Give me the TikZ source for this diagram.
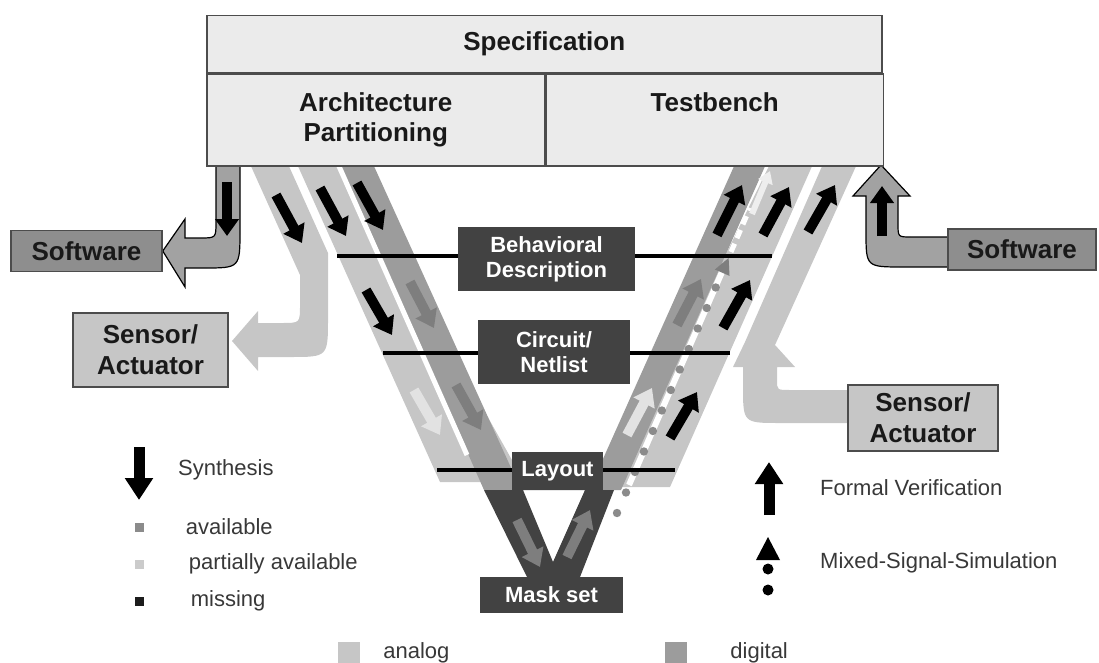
\documentclass[tikz,border=0pt]{standalone}
\usepackage{fontspec}
\setmainfont{Liberation Sans}
\usepackage{tikz}
\usetikzlibrary{arrows.meta,positioning,backgrounds,calc}

\definecolor{analog}{HTML}{C6C6C6}
\definecolor{digital}{HTML}{9C9C9C}
\definecolor{boxdark}{HTML}{424242}
\definecolor{missing}{HTML}{1C1C1C}
\definecolor{avail}{HTML}{7E7E7E}
\definecolor{partial}{HTML}{E2E2E2}
\definecolor{swgray}{HTML}{8E8E8E}
\definecolor{swarrow}{HTML}{A2A2A2}
\definecolor{specgray}{HTML}{EBEBEB}
\definecolor{legtext}{HTML}{383838}

\tikzset{
  specbox/.style={draw=black!70, line width=1.5pt, fill=specgray, text=black!90,
    font=\fontsize{26}{30}\selectfont\bfseries, align=center, inner sep=0pt},
  stagebox/.style={fill=boxdark, text=white, font=\fontsize{22}{25}\selectfont\bfseries,
    align=center, inner sep=0pt},
  extbox/.style={draw=black!70, line width=1.5pt, text=black!90,
    font=\fontsize{26}{31}\selectfont\bfseries, align=center, inner sep=0pt},
  level/.style={line width=4.5pt, black},
  flow/.style={line width=10pt, -{Triangle[width=23pt,length=17pt]}},
  legarrow/.style={black, line width=11pt, -{Triangle[width=27pt,length=22pt]}},
  sq/.style={minimum size=9pt, inner sep=0pt},
  legend/.style={font=\fontsize{22}{26}\selectfont, text=legtext, anchor=west, inner sep=0pt},
}

\begin{document}
\begin{tikzpicture}[x=1pt,y=-1pt]
\useasboundingbox (0,0) rectangle (1099,663);
% nodes
\node[specbox, minimum width=675pt, minimum height=57pt, anchor=north west] (spec) at (206,15) {Specification};
\node[specbox, minimum width=338pt, minimum height=92pt, anchor=north west] (arch) at (spec.south west) {Architecture\\Partitioning};
\node[specbox, minimum width=337pt, minimum height=92pt, right=0pt of arch] (test) {Testbench\\\phantom{g}};

\node[stagebox, minimum width=177pt, minimum height=64pt] (behav) at (546.5,259) {Behavioral\\Description};
\node[stagebox, minimum width=152pt, minimum height=64pt] (circ) at (554,352) {Circuit/\\Netlist};
\node[stagebox, minimum width=91pt, minimum height=38pt] (layout) at (557.5,471) {Layout};
\node[stagebox, minimum width=143pt, minimum height=36pt] (mask) at (551.5,595) {Mask set};

\node[extbox, fill=swgray, minimum width=151pt, minimum height=41pt] (swl) at (86.5,251) {Software};
\node[extbox, fill=swgray, minimum width=148pt, minimum height=41pt] (swr) at (1022,249.5) {Software};
\node[extbox, fill=analog, minimum width=155pt, minimum height=74pt] (sal) at (150.5,350) {Sensor/\\Actuator};
\node[extbox, fill=analog, minimum width=150pt, minimum height=66pt] (sar) at (923,418) {Sensor/\\Actuator};

\begin{scope}[on background layer]
% bands
\fill[analog] (250,164) -- (300,275) -- (300,305) .. controls (300,323) .. (282,323) -- (258,323) -- (258,311)
  -- (232,341) -- (258,371) -- (258,357) -- (290,357) .. controls (328,357) .. (328,318) -- (328,253) -- (288,164) -- cycle;
\fill[analog] (297,164) -- (345,164) -- (512,460) -- (512,482) -- (440,482) -- cycle;
\fill[digital] (340,164) -- (373,164) -- (512,470) -- (512,490) -- (484,490) -- cycle;
\draw[white, line width=5pt] (338,164) -- (467,455);
\fill[analog] (612,487) -- (670,487) -- (813,164) -- (770,164) -- cycle;
\fill[digital] (735,164) -- (766,164) -- (621,490) -- (598,490) -- (598,470) -- cycle;
\fill[analog] (823,164) -- (857,164) -- (775,345) -- (795,367) -- (777,367) -- (777,380) .. controls (777,390) .. (790,390)
  -- (sar.west |- 0,390) -- (sar.west |- 0,423) -- (780,423) .. controls (743,423) .. (743,386) -- (743,367) -- (733,367) -- (745,342) -- cycle;
\fill[boxdark, even odd rule] (484,490) -- (614,490) -- (580,577) -- (527,577) -- cycle
  (523,490) -- (585,490) -- (553,562) -- cycle;
% mixed-signal line
\draw[white, line width=6pt] (629,485) -- (722,272);
\foreach \y in {513,492.5,...,280}
  \fill[avail!90] ({617+0.4377*(513-\y)},\y) circle[radius=4.2pt];
\fill[avail] (728.6,258) -- (729.5,275.9) -- (714.9,269.5) -- cycle;
\draw[white, line width=5pt, dash pattern=on 9pt off 6pt] (731,252) -- (750,208);
% software
\filldraw[fill=swarrow, draw=black, line width=1.2pt] (216,160) -- (216,222) .. controls (216,238) .. (200,238) -- (185,238)
  -- (185,219) -- (swl.east) -- (185,287) -- (185,268) -- (204,268) .. controls (240,268) .. (240,230) -- (240,160);
\filldraw[fill=swarrow, draw=black, line width=1.2pt] (swr.west |- 0,237) -- (911,237) .. controls (898,237) .. (898,224)
  -- (898,196) -- (910,196) -- (881,165) -- (853,196) -- (866,196) -- (866,232) .. controls (866,267) .. (903,267) -- (swr.west |- 0,267);
% levels
\draw[level] (337,256) -- (behav.west |- 0,256);
\draw[level] (behav.east |- 0,256) -- (772,256);
\draw[level] (383,353) -- (circ.west |- 0,353);
\draw[level] (circ.east |- 0,353) -- (730,353);
\draw[level] (437,470) -- (layout.west |- 0,470);
\draw[level] (layout.east |- 0,470) -- (675,470);
\end{scope}

% synthesis
\draw[flow, missing] (227,182) -- (227,236);
\draw[flow, missing] (276,195) -- (302,243);
\draw[flow, missing] (320,188) -- (346,236);
\draw[flow, missing] (357,183) -- (383,230);
\draw[flow, missing] (366,290) -- (392,335);
\draw[flow, avail] (410,282) -- (434,328);
\draw[flow, partial] (414,390) -- (440,435);
\draw[flow, avail] (456,385) -- (481,430);
\draw[flow, avail] (517,520) -- (540,567);
% verification
\draw[flow, avail] (567,557) -- (590,510);
\draw[flow, partial] (627,435) -- (652,388);
\draw[flow, missing] (670,438) -- (697,392);
\draw[flow, avail] (677,325) -- (701,279);
\draw[flow, missing] (723,328) -- (750,280);
\draw[flow, missing] (717,235) -- (742,185);
\draw[flow, missing] (763,235) -- (789,187);
\draw[flow, missing] (808,232) -- (835,185);
\draw[flow, missing] (882,236) -- (882,186);
\draw[partial!60!white, line width=6pt, -{Triangle[width=15pt,length=12pt]}] (752,214) -- (770,171);

% legend
\coordinate (syn) at (139,447);
\draw[legarrow] (syn) -- ++(0,53);
\node[legend] (tsyn) at (178,470) {Synthesis};
\node[sq, fill=avail!90] (sqav) at (139,527) {};
\node[legend, right=42pt of sqav] (tav) {available};
\node[sq, fill=partial!90!black] (sqpa) at (139,564) {};
\node[legend, right=45pt of sqpa] (tpa) {partially available};
\node[sq, fill=missing] (sqmi) at (139,601) {};
\node[legend, right=47pt of sqmi] (tmi) {missing};

\coordinate (fv) at (769,515);
\draw[legarrow] (fv) -- ++(0,-53);
\node[legend] (tfv) at (820,488) {Formal Verification};
\fill (768,537) -- ++(12,23) -- ++(-24,0) -- cycle;
\fill (768,569) circle[radius=5.5pt] (768,590) circle[radius=5.5pt];
\node[legend] (tms) at (820,563) {Mixed-Signal-Simulation};

\node[sq, fill=analog, minimum width=22pt, minimum height=21pt] (sqan) at (349,652.5) {};
\node[legend, right=23pt of sqan] (tan) {analog};
\node[sq, fill=digital, minimum width=22pt, minimum height=21pt] (sqdi) at (676,652.5) {};
\node[legend, right=43pt of sqdi] (tdi) {digital};
\end{tikzpicture}
\end{document}
